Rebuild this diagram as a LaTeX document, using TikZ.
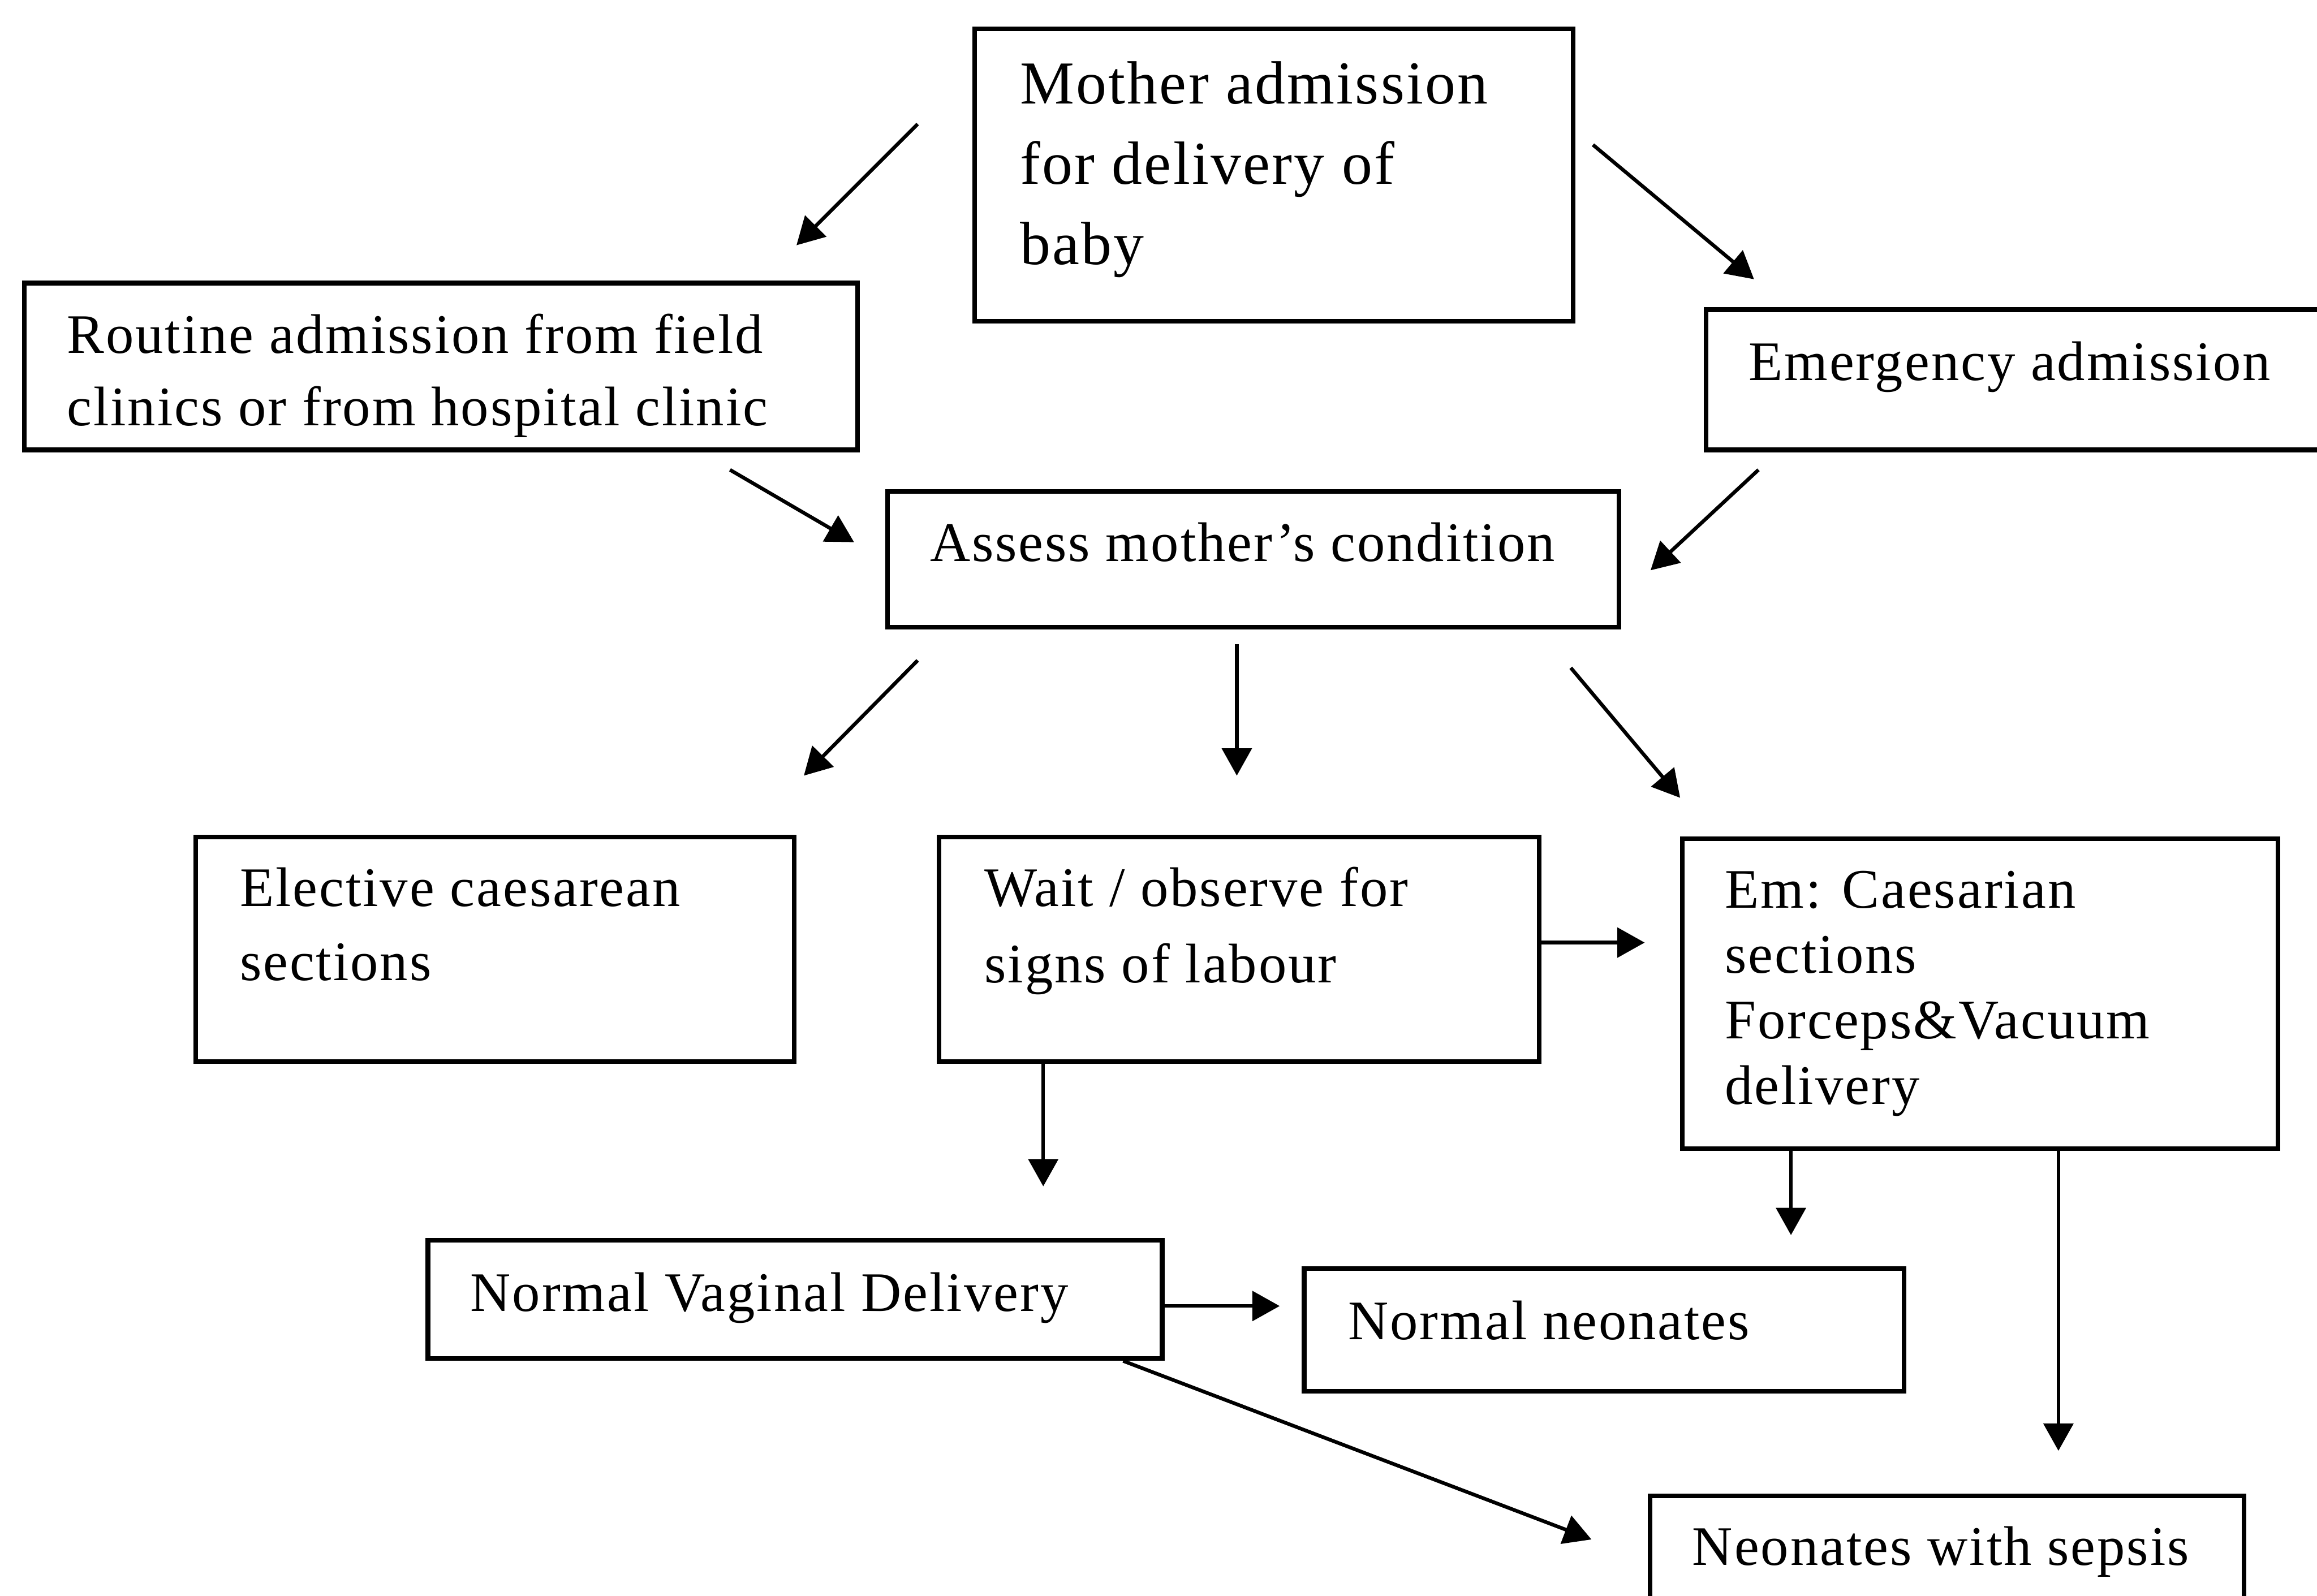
\documentclass[tikz,border=0pt]{standalone}
\usepackage{fontspec}
\setmainfont{Liberation Serif}
\newfontfamily\boxfont[LetterSpace=3]{Liberation Serif}
\usetikzlibrary{arrows.meta,calc}
\begin{document}
\begin{tikzpicture}[x=0.02cm,y=-0.02cm,
 box/.style={draw,line width=1.8pt,inner sep=0,anchor=north west},
 txt/.style={inner sep=0,anchor=base west,align=left,font=\boxfont\fontsize{21.5}{28.5}\selectfont},
 arr/.style={line width=1.4pt,-{Triangle[length=0.37cm,width=0.40cm]}}]
\useasboundingbox (0,0) rectangle (1568,1080);
\clip (0,0) rectangle (1568,1080);
% boxes
\node[box,minimum width=8.10cm,minimum height=3.96cm] (mother) at (658,18) {};
\node[box,minimum width=11.28cm,minimum height=2.26cm] (routine) at (15,190) {};
\node[box,minimum width=8.60cm,minimum height=1.90cm] (emerg) at (1153,208) {};
\node[box,minimum width=9.90cm,minimum height=1.84cm] (assess) at (599,331) {};
\node[box,minimum width=8.10cm,minimum height=3.04cm] (elective) at (131,565) {};
\node[box,minimum width=8.12cm,minimum height=3.04cm] (wait) at (634,565) {};
\node[box,minimum width=8.06cm,minimum height=4.20cm] (em) at (1137,566) {};
\node[box,minimum width=9.94cm,minimum height=1.60cm] (nvd) at (288,838) {};
\node[box,minimum width=8.12cm,minimum height=1.66cm] (nn) at (881,857) {};
\node[box,minimum width=8.04cm,minimum height=2.00cm] (sepsis) at (1115,1011) {};
% texts (anchored at the baseline of their last line)
\node[txt,font=\boxfont\fontsize{23.5}{31}\selectfont] (mother-t) at ($(mother.north west)+(32,161)$) {Mother admission\\for delivery of\\baby};
\node[txt,font=\boxfont\fontsize{21.5}{27.9}\selectfont] (routine-t) at ($(routine.north west)+(30,98)$) {Routine admission from field\\clinics or from hospital clinic};
\node[txt] (emerg-t) at ($(emerg.north west)+(30,49.5)$) {Emergency admission};
\node[txt] (assess-t) at ($(assess.north west)+(30,49)$) {Assess mother’s condition};
\node[txt] (elective-t) at ($(elective.north west)+(31,98.6)$) {Elective caesarean\\sections};
\node[txt,font=\boxfont\fontsize{21.5}{29.3}\selectfont] (wait-t) at ($(wait.north west)+(32,100)$) {Wait / observe for\\signs of labour};
\node[txt,font=\boxfont\fontsize{21.5}{25.2}\selectfont] (em-t) at ($(em.north west)+(30,181.3)$) {Em: Caesarian\\sections\\Forceps\&Vacuum\\delivery};
\node[txt] (nvd-t) at ($(nvd.north west)+(30,49.5)$) {Normal Vaginal Delivery};
\node[txt] (nn-t) at ($(nn.north west)+(31,49.5)$) {Normal neonates};
\node[txt] (sepsis-t) at ($(sepsis.north west)+(30,48.5)$) {Neonates with sepsis};
% arrow end points
\coordinate (a1) at (621,84);   \coordinate (a2) at (539,166);
\coordinate (b1) at (1078,98);  \coordinate (b2) at (1187,189);
\coordinate (c1) at (494,318);  \coordinate (c2) at (578,367);
\coordinate (d1) at (1190,318); \coordinate (d2) at (1117,386);
\coordinate (e1) at (621,447);  \coordinate (e2) at (544,525);
\coordinate (f1) at (837,436);  \coordinate (f2) at (837,525);
\coordinate (g1) at (1063,452); \coordinate (g2) at (1137,540);
\coordinate (h2) at (1113,638);
\coordinate (i2) at (706,803);
\coordinate (j2) at (1212,836);
\coordinate (k2) at (1393,982);
\coordinate (l2) at (866,884);
\coordinate (m2) at (1077,1042);
% connectors
\draw[arr] (a1) -- (a2);
\draw[arr] (b1) -- (b2);
\draw[arr] (c1) -- (c2);
\draw[arr] (d1) -- (d2);
\draw[arr] (e1) -- (e2);
\draw[arr] (f1) -- (f2);
\draw[arr] (g1) -- (g2);
\draw[arr] ($(wait.north east)+(0,73)$) -- (h2);
\draw[arr] ($(wait.south west)+(72,0)$) -- (i2);
\draw[arr] ($(em.south west)+(75,0)$) -- (j2);
\draw[arr] ($(em.south west)+(256,0)$) -- (k2);
\draw[arr] ($(nvd.north east)+(0,46)$) -- (l2);
\draw[arr] ($(nvd.south east)+(-28,0)$) -- (m2);
\end{tikzpicture}
\end{document}
